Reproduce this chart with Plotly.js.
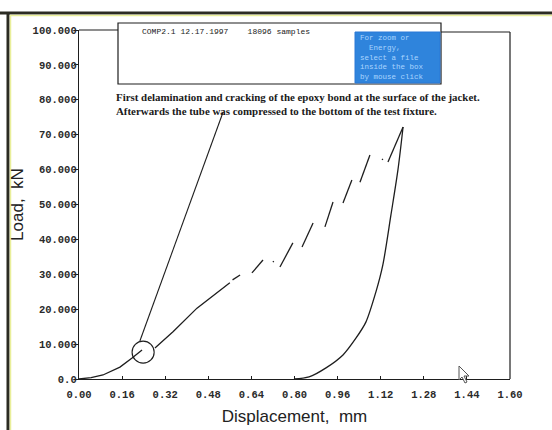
<!DOCTYPE html>
<html>
<head>
<meta charset="utf-8">
<script src="https://cdn.plot.ly/plotly-3.0.1.min.js"></script>
<style>
  html, body { margin: 0; padding: 0; background: #ffffff; }
  #chart { width: 552px; height: 430px; }
</style>
</head>
<body>
<div id="chart"></div>
<script>
// ---- data ----
// Loading branch (null = gap in the recorded trace)
const loadX = [0.000, 0.045, 0.089, 0.152, 0.197, 0.234, null,
               0.282, 0.350, 0.438, 0.523, 0.560, null,
               0.570, 0.598, null,
               0.642, 0.683, null,
               0.720, 0.723, null,
               0.746, 0.794, null,
               0.828, 0.869, null,
               0.913, 0.943, null,
               0.980, 1.013, null,
               1.043, 1.080, null,
               1.125, 1.128, null,
               1.147, 1.203];
const loadY = [0.0, 0.4, 1.15, 3.4, 6.0, 8.3, null,
               8.9, 13.6, 20.3, 25.5, 27.6, null,
               28.4, 29.8, null,
               30.4, 34.1, null,
               33.5, 33.8, null,
               32.1, 39.0, null,
               37.8, 44.7, null,
               43.6, 50.7, null,
               50.4, 57.0, null,
               56.4, 64.2, null,
               62.8, 63.1, null,
               62.2, 72.2];
// Unloading branch
const unloadX = [1.203, 1.184, 1.158, 1.128, 1.102, 1.065, 1.028, 0.980, 0.917, 0.854, 0.798];
const unloadY = [72.2, 59.9, 47.0, 32.7, 24.9, 16.3, 11.7, 6.9, 3.2, 0.6, 0.0];

// Leader line from the marked point to the comment
const leaderX = [0.226, 0.535];
const leaderY = [10.9, 76.5];
// Marker circle around first delamination point (center, radius in data units)
const circleCenter = [0.238, 7.7];
const circleRadius = [0.041, 3.15];

// Axis ticks
const xTickVals = [0.00, 0.16, 0.32, 0.48, 0.64, 0.80, 0.96, 1.12, 1.28, 1.44, 1.60];
const xTickText = ["0.00", "0.16", "0.32", "0.48", "0.64", "0.80", "0.96", "1.12", "1.28", "1.44", "1.60"];
const yTickVals = [0, 10, 20, 30, 40, 50, 60, 70, 80, 90, 100];
const yTickText = ["0.0", "10.000", "20.000", "30.000", "40.000", "50.000", "60.000", "70.000", "80.000", "90.000", "100.000"];

// Texts
const headerText = "COMP2.1 12.17.1997    18096 samples";
const commentLines = ["First delamination and cracking of the epoxy bond at the surface of the jacket.",
                      "Afterwards the tube was compressed to the bottom of the test fixture."];
const helpLines = ["For zoom or", "  Energy,", "select a file", "inside the box", "by mouse click"];

// ---- build ----
const lineColor = "#1e1e1e";
const traces = [
  { x: loadX, y: loadY, mode: "lines", connectgaps: false, hoverinfo: "x+y",
    line: { color: lineColor, width: 1.3 }, showlegend: false, name: "loading" },
  { x: unloadX, y: unloadY, mode: "lines", hoverinfo: "x+y",
    line: { color: lineColor, width: 1.3, shape: "spline", smoothing: 0.8 }, showlegend: false, name: "unloading" },
  { x: leaderX, y: leaderY, mode: "lines", hoverinfo: "skip",
    line: { color: lineColor, width: 1.1 }, showlegend: false, name: "leader" }
];

// plot area in pixels: x 79..510, y 30..379
const L = 79, R = 510, T = 30, B = 379;
const px = v => (v - L) / (R - L);
const py = v => (B - v) / (B - T);

const shapes = [
  // window frame (dark outer border + thin yellow inner line)
  { type: "line", xref: "paper", yref: "paper", x0: px(0), x1: px(552), y0: py(13), y1: py(13),
    line: { color: "#2b2b22", width: 3 } },
  { type: "line", xref: "paper", yref: "paper", x0: px(8), x1: px(8), y0: py(12), y1: py(432),
    line: { color: "#2b2b22", width: 3 } },
  { type: "line", xref: "paper", yref: "paper", x0: px(10), x1: px(552), y0: py(15.5), y1: py(15.5),
    line: { color: "#e9ef9a", width: 1.5 } },
  { type: "line", xref: "paper", yref: "paper", x0: px(10.5), x1: px(10.5), y0: py(15), y1: py(432),
    line: { color: "#e9ef9a", width: 1.5 } },
  // plot frame segments
  { type: "line", xref: "paper", yref: "paper", x0: 0, x1: px(118), y0: 1, y1: 1,
    line: { color: lineColor, width: 1.2 } },
  { type: "line", xref: "paper", yref: "paper", x0: px(441), x1: 1, y0: py(32), y1: py(32),
    line: { color: lineColor, width: 1.2 } },
  { type: "line", xref: "paper", yref: "paper", x0: 1, x1: 1, y0: 0, y1: py(32),
    line: { color: lineColor, width: 1.2 } },
  // info box
  { type: "rect", xref: "paper", yref: "paper", x0: px(118), x1: px(441), y0: py(84), y1: py(23),
    line: { color: lineColor, width: 1.2 }, fillcolor: "rgba(255,255,255,0)" },
  // blue help box
  { type: "rect", xref: "paper", yref: "paper", x0: px(355), x1: px(440), y0: py(83), y1: py(32),
    line: { color: "#2b78d6", width: 1 }, fillcolor: "#2f84dc" },
  // circle marker
  { type: "circle", xref: "x", yref: "y",
    x0: circleCenter[0] - circleRadius[0], x1: circleCenter[0] + circleRadius[0],
    y0: circleCenter[1] - circleRadius[1], y1: circleCenter[1] + circleRadius[1],
    line: { color: lineColor, width: 1.1 } },
  // mouse cursor
  { type: "path", xref: "paper", yref: "paper",
    path: "M " + px(459) + " " + py(366) + " L " + px(459) + " " + py(380) + " L " + px(462) + " " + py(377) +
          " L " + px(465) + " " + py(383) + " L " + px(467) + " " + py(382) + " L " + px(464) + " " + py(376) +
          " L " + px(469) + " " + py(376) + " Z",
    line: { color: "#555", width: 1 }, fillcolor: "#ffffff" }
];

const annotations = [
  { xref: "paper", yref: "paper", x: px(140), y: py(32), xanchor: "left", yanchor: "middle",
    text: headerText, showarrow: false,
    font: { family: "Liberation Mono, DejaVu Sans Mono, monospace", size: 8, color: "#222" } },
  { xref: "paper", yref: "paper", x: px(114), y: py(97), xanchor: "left", yanchor: "middle",
    text: "<b>" + commentLines[0] + "</b>", showarrow: false,
    font: { family: "Liberation Serif, Times New Roman, serif", size: 10.9, color: "#1a1a1a" } },
  { xref: "paper", yref: "paper", x: px(114), y: py(111), xanchor: "left", yanchor: "middle",
    text: "<b>" + commentLines[1] + "</b>", showarrow: false,
    font: { family: "Liberation Serif, Times New Roman, serif", size: 10.9, color: "#1a1a1a" } },
  { xref: "paper", yref: "paper", x: px(358), y: py(58), xanchor: "left", yanchor: "middle",
    text: helpLines.join("<br>"), showarrow: false, align: "left",
    font: { family: "Liberation Mono, DejaVu Sans Mono, monospace", size: 7.5, color: "#a9d4ff" } }
];

const tickFont = { family: "Liberation Mono, Courier New, monospace", size: 10.5, color: "#2a2a2a", weight: "bold" };

const layout = {
  width: 552, height: 430,
  margin: { l: L, r: 552 - R, t: T, b: 430 - B, pad: 0 },
  paper_bgcolor: "#ffffff", plot_bgcolor: "#ffffff",
  showlegend: false,
  xaxis: {
    range: [0, 1.6], tickmode: "array", tickvals: xTickVals, ticktext: xTickText,
    ticks: "inside", ticklen: 3, tickcolor: lineColor, tickwidth: 1, ticklabelstandoff: 5,
    showline: true, linecolor: lineColor, linewidth: 1.2, mirror: false,
    showgrid: false, zeroline: false, tickfont: tickFont,
    title: { text: "Displacement,  mm", standoff: 10,
             font: { family: "Liberation Sans, Arial, sans-serif", size: 17, color: "#222" } }
  },
  yaxis: {
    range: [0, 100], tickmode: "array", tickvals: yTickVals, ticktext: yTickText,
    ticks: "outside", ticklen: 4, tickcolor: lineColor, tickwidth: 1, ticklabelstandoff: -5,
    showline: true, linecolor: lineColor, linewidth: 1.2, mirror: false,
    showgrid: false, zeroline: false, tickfont: tickFont,
    title: { text: "Load,  kN", standoff: 4,
             font: { family: "Liberation Sans, Arial, sans-serif", size: 17, color: "#222" } }
  },
  shapes: shapes,
  annotations: annotations
};

Plotly.newPlot("chart", traces, layout, { displayModeBar: false, staticPlot: true });
</script>
</body>
</html>
